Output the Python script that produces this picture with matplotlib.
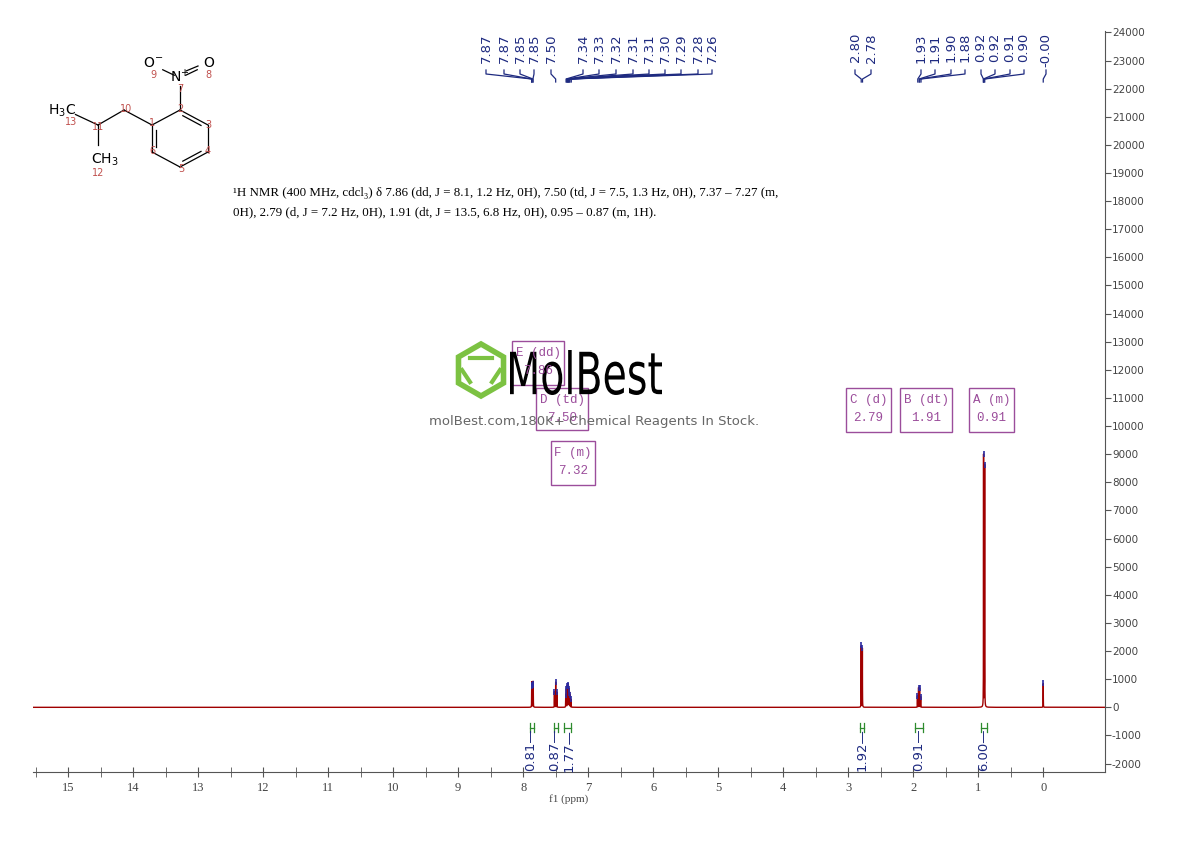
import numpy as np
import matplotlib
matplotlib.use("Agg")
import matplotlib.pyplot as plt
from matplotlib.patches import Rectangle, RegularPolygon, PathPatch
from matplotlib.textpath import TextPath
from matplotlib.font_manager import FontProperties
from matplotlib.transforms import Affine2D

# ---------------- data ----------------
peak_ppm = [7.868, 7.865, 7.848, 7.845, 7.519, 7.500, 7.481,
            7.345, 7.335, 7.322, 7.312, 7.305, 7.295, 7.288, 7.278, 7.262,
            2.800, 2.782, 1.935, 1.918, 1.902, 1.885, 0.918, 0.901, 0.000]
peak_height = [800, 760, 820, 780, 560, 900, 540,
               450, 650, 760, 800, 760, 650, 520, 430, 280,
               2200, 2100, 400, 700, 680, 380, 9000, 8600, 850]

top_labels = ["7.87", "7.87", "7.85", "7.85", "7.50", "7.34", "7.33", "7.32", "7.31", "7.31",
              "7.30", "7.29", "7.28", "7.26", "2.80", "2.78", "1.93", "1.91", "1.90", "1.88",
              "0.92", "0.92", "0.91", "0.90", "-0.00"]
top_label_ppm = [7.87, 7.87, 7.85, 7.85, 7.50, 7.34, 7.33, 7.32, 7.31, 7.31,
                 7.30, 7.29, 7.28, 7.26, 2.80, 2.78, 1.93, 1.91, 1.90, 1.88,
                 0.92, 0.92, 0.91, 0.90, 0.00]
top_label_px = [486, 504, 520, 534, 551, 583, 599, 616, 633, 649, 665, 681, 698, 712,
                855, 871, 921, 935, 951, 965, 981, 995, 1010, 1024, 1046]
label_groups = [(0, 4), (4, 5), (5, 14), (14, 16), (16, 20), (20, 24), (24, 25)]

integ_start = [7.89, 7.53, 7.37, 2.82, 1.97, 0.95]
integ_end = [7.83, 7.47, 7.27, 2.76, 1.85, 0.87]
integ_values = ["0.81", "0.87", "1.77", "1.92", "0.91", "6.00"]
integ_label_ppm = [7.88, 7.52, 7.29, 2.79, 1.91, 0.91]

box_titles = ["E (dd)", "D (td)", "F (m)", "C (d)", "B (dt)", "A (m)"]
box_values = ["7.86", "7.50", "7.32", "2.79", "1.91", "0.91"]
box_px = [(512, 341, 52, 44), (536, 388, 52, 42), (551, 441, 44, 44),
          (846, 388, 45, 44), (900, 388, 52, 44), (969, 388, 45, 44)]

x_ticks = list(range(0, 16))
y_ticks = list(range(-2000, 24001, 1000))

# ---------------- figure ----------------
W, H = 1190, 841
fig = plt.figure(figsize=(W / 100, H / 100), dpi=100)
AX_L, AX_R, AX_T, AX_B = 33, 1105, 31, 772
ax = fig.add_axes([AX_L / W, 1 - AX_B / H, (AX_R - AX_L) / W, (AX_B - AX_T) / H])
XMAX, XMIN = 15.54, -0.95
ax.set_xlim(XMAX, XMIN)
ax.set_ylim(-2300, 24050)

x = np.linspace(XMIN, XMAX, 60000)
y = np.zeros_like(x)
w = 0.0012
for p, h in zip(peak_ppm, peak_height):
    y += h * w**2 / ((x - p)**2 + w**2)
ax.plot(x, y, color="#a00000", lw=1.0)
ax.plot(peak_ppm, peak_height, ls="none", marker="|", ms=5, color="#2a2aa0", mew=1.2)

for s in ["top", "left"]:
    ax.spines[s].set_visible(False)
ax.spines["right"].set_color("#555555")
ax.spines["bottom"].set_color("#555555")
ax.yaxis.tick_right()
ax.set_yticks(y_ticks)
ax.set_yticklabels([str(v) for v in y_ticks], fontsize=7.5, color="#444444")
ax.tick_params(axis="y", direction="out", length=4, color="#555555", pad=1)
ax.set_xticks(x_ticks)
ax.set_xticks(np.arange(0.5, 15.6, 1.0), minor=True)
ax.set_xticklabels([str(v) for v in x_ticks], fontsize=9, color="#444444", family="Liberation Serif")
ax.tick_params(axis="x", which="both", direction="inout", length=7, color="#555555")
ax.set_xlabel("f1 (ppm)", fontsize=8, color="#444444", family="Liberation Serif", labelpad=0)

# integrations
for a, b, v, lp in zip(integ_start, integ_end, integ_values, integ_label_ppm):
    ax.plot([a, b], [-720, -720], color="#2e8b2e", lw=0.9)
    ax.plot([a, a], [-550, -890], color="#2e8b2e", lw=0.9)
    ax.plot([b, b], [-550, -890], color="#2e8b2e", lw=0.9)
    ax.text(lp, -760, v + "—", rotation=90, ha="center", va="top", fontsize=9.5,
            color="#1e2a80")

# overlay in pixel coordinates
ov = fig.add_axes([0, 0, 1, 1], facecolor="none")
ov.set_xlim(0, W)
ov.set_ylim(H, 0)
ov.axis("off")

def ppm2px(p):
    return AX_L + (XMAX - p) / (XMAX - XMIN) * (AX_R - AX_L)

navy = "#1e2a80"
for lab, px in zip(top_labels, top_label_px):
    ov.text(px, 33, lab, rotation=90, ha="center", va="top", fontsize=9.5, color=navy)
for (s, e) in label_groups:
    for i in range(s, e):
        lx = top_label_px[i]
        pk = ppm2px(top_label_ppm[i])
        ov.plot([lx, lx, pk, pk], [70, 74, 79, 82], color=navy, lw=0.9)

# boxes
purple = "#9b4d9b"
for t, v, (bx, by, bw, bh) in zip(box_titles, box_values, box_px):
    ov.add_patch(Rectangle((bx, by), bw, bh, fill=False, ec=purple, lw=1))
    ov.text(bx + bw / 2, by + 12, t, ha="center", va="center", fontsize=9,
            color=purple, family="Liberation Mono")
    ov.text(bx + bw / 2, by + 30, v, ha="center", va="center", fontsize=9,
            color=purple, family="Liberation Mono")

# description text
ov.text(233, 193, "¹H NMR (400 MHz, cdcl₃) δ 7.86 (dd, J = 8.1, 1.2 Hz, 0H), 7.50 (td, J = 7.5, 1.3 Hz, 0H), 7.37 – 7.27 (m,",
        fontsize=9.3, family=["Liberation Serif", "DejaVu Serif"], va="center")
ov.text(233, 212, "0H), 2.79 (d, J = 7.2 Hz, 0H), 1.91 (dt, J = 13.5, 6.8 Hz, 0H), 0.95 – 0.87 (m, 1H).",
        fontsize=9.3, family=["Liberation Serif", "DejaVu Serif"], va="center")

# watermark
green = "#7cc242"
ov.add_patch(RegularPolygon((481, 370), 6, radius=26, fill=False, ec=green, lw=4))
ov.plot([470, 492], [358, 358], color=green, lw=3)
ov.plot([462, 470], [370, 382], color=green, lw=3)
ov.plot([500, 492], [370, 382], color=green, lw=3)
tp = TextPath((0, 0), "MolBest", size=1, prop=FontProperties(family="DejaVu Sans"))
bb = tp.get_extents()
sx = 152 / bb.width
sy = 45 / bb.height
tr = Affine2D().translate(-bb.x0, -bb.y0).scale(sx, -sy).translate(510, 395)
ov.add_patch(PathPatch(tr.transform_path(tp), fc="black", ec="none"))
ov.text(594, 421, "molBest.com,180K+ Chemical Reagents In Stock.", fontsize=9.5,
        ha="center", va="center", color="#666666")

# molecule
atoms = {13: (68, 111), 11: (98, 125), 10: (124, 110), 1: (152, 125), 2: (180, 110),
         3: (208, 125), 4: (208, 152), 5: (180, 167), 6: (152, 152), 7: (180, 78),
         9: (157, 67), 8: (203, 67), 12: (98, 152)}
bonds = [(13, 11), (11, 10), (10, 1), (1, 2), (2, 3), (3, 4), (4, 5), (5, 6), (6, 1),
         (2, 7), (7, 9), (7, 8), (11, 12)]
for a, b in bonds:
    (x1, y1), (x2, y2) = atoms[a], atoms[b]
    if a in (13, 7, 12) or b in (7, 9, 8, 12):
        t0 = 0.25 if a in (13, 7) else 0.0
        t1 = 0.75 if b in (7, 9, 8, 12) else 1.0
        x1, y1, x2, y2 = x1 + t0 * (x2 - x1), y1 + t0 * (y2 - y1), x1 + t1 * (x2 - x1), y1 + t1 * (y2 - y1)
    ov.plot([x1, x2], [y1, y2], color="black", lw=0.9)
for a, b in [(2, 3), (4, 5), (6, 1)]:
    (x1, y1), (x2, y2) = atoms[a], atoms[b]
    cx, cy = 180, 138
    f = 0.85
    ov.plot([cx + f * (x1 - cx) + 0.1 * (x2 - x1), cx + f * (x2 - cx) - 0.1 * (x2 - x1)],
            [cy + f * (y1 - cy) + 0.1 * (y2 - y1), cy + f * (y2 - cy) - 0.1 * (y2 - y1)],
            color="black", lw=0.9)
ov.plot([186, 198], [71, 66], color="black", lw=0.9)
ov.text(62, 111, "H$_3$C", fontsize=10, ha="center", va="center")
ov.text(105, 160, "CH$_3$", fontsize=10, ha="center", va="center")
ov.text(180, 77, "N$^{+}$", fontsize=10, ha="center", va="center")
ov.text(153, 63, "O$^{-}$", fontsize=10, ha="center", va="center")
ov.text(209, 63, "O", fontsize=10, ha="center", va="center")
red = "#c0504d"
nums = {13: (71, 122), 11: (98, 127), 10: (126, 109), 1: (152, 123), 2: (180, 109),
        3: (208, 125), 4: (208, 151), 5: (181, 169), 6: (152, 151), 7: (180, 89),
        9: (153, 75), 8: (208, 75), 12: (98, 173)}
for k, (nx, ny) in nums.items():
    ov.text(nx, ny, str(k), fontsize=7, color=red, ha="center", va="center")

fig.savefig("out.png", dpi=100)
